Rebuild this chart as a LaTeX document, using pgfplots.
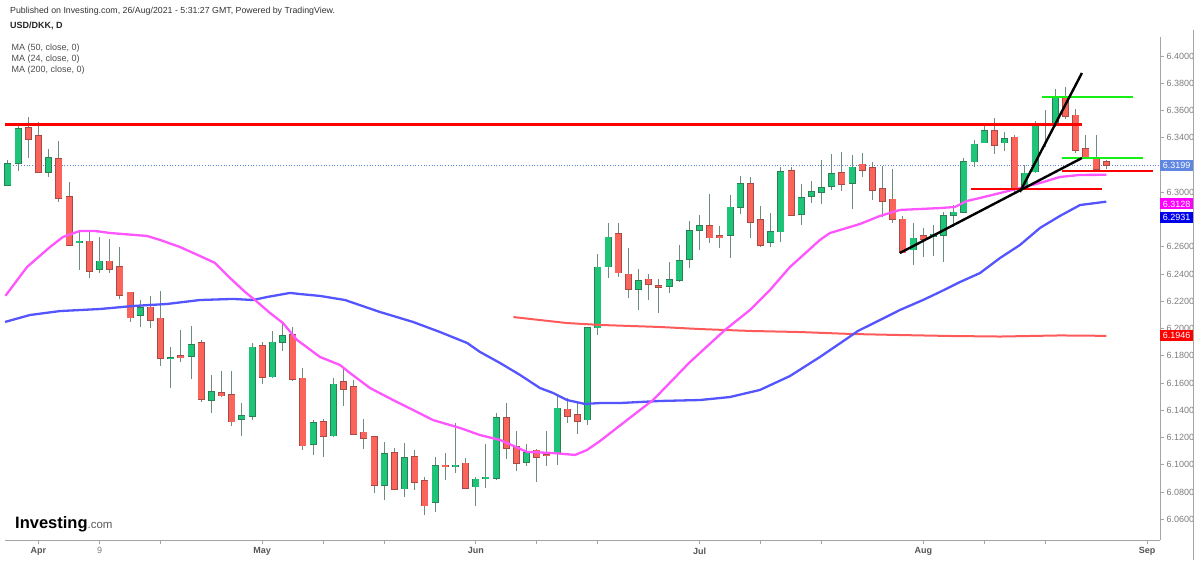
\documentclass[border=0pt]{standalone}
\usepackage{fontspec}
\setmainfont{Liberation Sans}
\usepackage{pgfplots}
\usepackage{pgfplotstable}
\pgfplotsset{compat=1.18}

\definecolor{upc}{RGB}{30,196,120}
\definecolor{upb}{RGB}{45,125,85}
\definecolor{dnc}{RGB}{250,100,90}
\definecolor{dnb}{RGB}{165,75,70}
\definecolor{wickc}{RGB}{110,140,125}
\definecolor{maA}{RGB}{255,85,255}
\definecolor{maB}{RGB}{85,85,255}
\definecolor{maC}{RGB}{255,90,90}
\definecolor{axisgray}{RGB}{165,165,165}
\definecolor{labgray}{RGB}{125,125,125}
\definecolor{monthc}{RGB}{85,85,85}
\definecolor{pricec}{RGB}{95,135,225}
\definecolor{hred}{RGB}{255,0,0}
\definecolor{hgreen}{RGB}{20,240,20}
\definecolor{boxmag}{RGB}{255,0,255}
\definecolor{boxblue}{RGB}{0,0,235}

% up (close > open) candles: index, open, high, low, close
\pgfplotstableread{
i o h l c
-3 6.3053 6.3237 6.3045 6.3207
-2 6.3215 6.3494 6.3156 6.3464
1 6.3149 6.3317 6.3112 6.3251
4 6.2635 6.2716 6.2430 6.2641
6 6.2437 6.2672 6.2407 6.2495
10 6.2099 6.2214 6.2013 6.2155
13 6.1781 6.1867 6.1561 6.1786
15 6.1798 6.2018 6.1627 6.1879
17 6.1475 6.1659 6.1382 6.1536
20 6.1333 6.1451 6.1211 6.1358
21 6.1358 6.1896 6.1328 6.1862
23 6.1647 6.1982 6.1640 6.1898
24 6.1903 6.2050 6.1837 6.1945
27 6.1152 6.1328 6.1071 6.1309
29 6.1213 6.1634 6.1201 6.1590
34 6.0851 6.1169 6.0741 6.1079
36 6.0827 6.1162 6.0766 6.1054
39 6.0724 6.1059 6.0651 6.0991
41 6.0993 6.1309 6.0942 6.0996
43 6.0839 6.0913 6.0697 6.0893
44 6.0904 6.1152 6.0834 6.0908
45 6.0905 6.1382 6.0888 6.1345
48 6.1018 6.1152 6.0991 6.1089
51 6.1084 6.1512 6.0997 6.1414
54 6.1333 6.2013 6.1292 6.2006
55 6.2006 6.2547 6.1952 6.2449
56 6.2454 6.2777 6.2368 6.2669
59 6.2288 6.2434 6.2136 6.2351
62 6.2312 6.2491 6.2263 6.2361
63 6.2356 6.2613 6.2344 6.2498
64 6.2508 6.2792 6.2449 6.2718
65 6.2723 6.2833 6.2576 6.2752
68 6.2686 6.2980 6.2522 6.2889
69 6.2894 6.3122 6.2838 6.3061
72 6.2632 6.2850 6.2601 6.2711
73 6.2711 6.3188 6.2637 6.3151
75 6.2841 6.3061 6.2760 6.2960
76 6.2972 6.3085 6.2919 6.3004
77 6.2999 6.3237 6.2914 6.3034
78 6.3046 6.3281 6.3021 6.3134
80 6.3066 6.3273 6.2877 6.3183
86 6.2581 6.2772 6.2466 6.2662
88 6.2674 6.2760 6.2532 6.2691
89 6.2686 6.2858 6.2491 6.2826
90 6.2833 6.2907 6.2747 6.2853
91 6.2853 6.3249 6.2845 6.3225
92 6.3225 6.3384 6.3188 6.3352
93 6.3364 6.3511 6.3359 6.3450
95 6.3366 6.3440 6.3303 6.3391
97 6.3041 6.3200 6.3029 6.3139
98 6.3151 6.3525 6.3144 6.3499
100 6.3494 6.3756 6.3481 6.3689
}\upcandles

% down (close < open) candles
\pgfplotstableread{
i o h l c
-1 6.3472 6.3552 6.3251 6.3391
0 6.3413 6.3516 6.3140 6.3149
2 6.3244 6.3376 6.2928 6.2958
3 6.2965 6.3075 6.2605 6.2613
5 6.2642 6.2716 6.2371 6.2422
7 6.2495 6.2657 6.2407 6.2437
8 6.2454 6.2600 6.2217 6.2248
9 6.2265 6.2270 6.2050 6.2079
11 6.2155 6.2238 6.2008 6.2062
12 6.2075 6.2277 6.1727 6.1781
14 6.1798 6.1989 6.1751 6.1791
16 6.1898 6.1915 6.1463 6.1480
18 6.1529 6.1690 6.1500 6.1507
19 6.1512 6.1690 6.1284 6.1316
22 6.1874 6.1903 6.1590 6.1642
25 6.1952 6.2013 6.1615 6.1629
26 6.1634 6.1707 6.1108 6.1140
28 6.1314 6.1340 6.1059 6.1211
30 6.1610 6.1720 6.1431 6.1558
31 6.1571 6.1622 6.1220 6.1226
32 6.1238 6.1340 6.1120 6.1194
33 6.1206 6.1210 6.0795 6.0851
35 6.1091 6.1121 6.0815 6.0820
37 6.1059 6.1108 6.0814 6.0876
38 6.0883 6.0913 6.0631 6.0700
40 6.0996 6.1089 6.0888 6.0991
42 6.1010 6.1047 6.0820 6.0827
46 6.1345 6.1455 6.1040 6.1120
47 6.1133 6.1250 6.0956 6.1015
49 6.1108 6.1113 6.0876 6.1059
50 6.1072 6.1250 6.0991 6.1070
52 6.1407 6.1488 6.1309 6.1358
53 6.1365 6.1455 6.1226 6.1323
57 6.2694 6.2777 6.2381 6.2410
58 6.2398 6.2593 6.2221 6.2288
60 6.2361 6.2400 6.2209 6.2327
61 6.2314 6.2361 6.2111 6.2305
66 6.2755 6.2987 6.2625 6.2669
67 6.2679 6.2752 6.2588 6.2672
70 6.3061 6.3115 6.2669 6.2779
71 6.2796 6.2899 6.2601 6.2613
74 6.3158 6.3188 6.2826 6.2833
79 6.3144 6.3298 6.3012 6.3061
81 6.3205 6.3285 6.3114 6.3163
82 6.3180 6.3224 6.2943 6.3017
83 6.3024 6.3193 6.2816 6.2938
84 6.2948 6.3168 6.2772 6.2801
85 6.2801 6.2826 6.2557 6.2557
87 6.2679 6.2735 6.2527 6.2654
94 6.3450 6.3543 6.3281 6.3347
96 6.3403 6.3420 6.3004 6.3029
99 6.3506 6.3604 6.3335 6.3496
101 6.3694 6.3770 6.3535 6.3560
102 6.3565 6.3609 6.3290 6.3310
103 6.3317 6.3420 6.3249 6.3256
104 6.3256 6.3420 6.3163 6.3168
105 6.3224 6.3236 6.3168 6.3199
}\dncandles

\pgfplotsset{
  wick/.style={draw=none, mark=none, forget plot,
    error bars/.cd, y dir=both, y explicit, error mark=none,
    error bar style={draw=wickc, line width=1pt}},
  bodyout/.style={draw=none, mark=none, forget plot,
    error bars/.cd, y dir=both, y explicit, error mark=none,
    error bar style={draw=#1, line width=7pt}},
  bodyin/.style={draw=none, mark=none, forget plot,
    error bars/.cd, y dir=both, y explicit, error mark=none,
    error bar style={draw=#1, line width=5.6pt}},
}

\begin{document}
\begin{tikzpicture}
\path[use as bounding box] (0pt,0pt) rectangle (1200pt,560pt);
\begin{axis}[
  at={(5pt,20pt)}, anchor=south west,
  scale only axis, width=1155pt, height=503pt,
  xmin=-3.294, xmax=110.28, ymin=6.04477, ymax=6.41394,
  clip=false,
  axis x line*=bottom, axis y line*=right,
  axis line style={draw=axisgray, line width=0.8pt},
  tick align=outside, major tick length=4pt,
  tick style={draw=axisgray, line width=0.8pt},
  xtick={0,6,12,22,28,34,43,49,55,65,71,77,87,93,99,109},
  xticklabels={\textbf{Apr},{\color{labgray}9},,\textbf{May},,,\textbf{Jun},,,\textbf{Jul},,,\textbf{Aug},,,\textbf{Sep}},
  xticklabel style={font=\fontsize{9}{11}\selectfont, text=monthc},
  ytick={6.06,6.08,6.10,6.12,6.14,6.16,6.18,6.20,6.22,6.24,6.26,6.28,6.30,6.32,6.34,6.36,6.38,6.40},
  yticklabels={6.0600,6.0800,6.1000,6.1200,6.1400,6.1600,6.1800,6.2000,6.2200,6.2400,6.2600,,6.3000,,6.3400,6.3600,6.3800,6.4000},
  yticklabel style={font=\fontsize{9}{11}\selectfont, text=labgray, xshift=-1pt},
]
% current price line
\addplot[pricec, dotted, line width=0.7pt, forget plot] coordinates {(-3.294,6.3199) (110.28,6.3199)};

% wicks
\addplot[wick] table[x=i, y expr={(\thisrow{h}+\thisrow{l})/2}, y error expr={(\thisrow{h}-\thisrow{l})/2}] {\upcandles};
\addplot[wick] table[x=i, y expr={(\thisrow{h}+\thisrow{l})/2}, y error expr={(\thisrow{h}-\thisrow{l})/2}] {\dncandles};
% body outlines
\addplot[bodyout=upb] table[x=i, y expr={(\thisrow{o}+\thisrow{c})/2}, y error expr={abs(\thisrow{o}-\thisrow{c})/2+0.0005}] {\upcandles};
\addplot[bodyout=dnb] table[x=i, y expr={(\thisrow{o}+\thisrow{c})/2}, y error expr={abs(\thisrow{o}-\thisrow{c})/2+0.0005}] {\dncandles};
% body fills
\addplot[bodyin=upc] table[x=i, y expr={(\thisrow{o}+\thisrow{c})/2}, y error expr={abs(\thisrow{o}-\thisrow{c})/2}] {\upcandles};
\addplot[bodyin=dnc] table[x=i, y expr={(\thisrow{o}+\thisrow{c})/2}, y error expr={abs(\thisrow{o}-\thisrow{c})/2}] {\dncandles};

% MA 200
\addplot[maC, line width=2pt, line join=round, forget plot] coordinates {
(46.7,6.2084) (49.31,6.2062) (51.97,6.2040) (55.21,6.2026) (61.11,6.2011) (65.04,6.1996) (69.96,6.1982) (74.88,6.1974) (79.79,6.1960) (84.71,6.1952) (89.63,6.1945) (94.54,6.1941) (97.49,6.1945) (100.44,6.1949) (105,6.1946)};
% MA 50
\addplot[maB, line width=2.3pt, line join=round, forget plot] coordinates {
(-3.29,6.2048) (-0.84,6.2099) (2.11,6.2128) (6.05,6.2143) (9.29,6.2165) (12.64,6.2180) (15.88,6.2209) (19.13,6.2217) (21.09,6.2209) (22.47,6.2231) (24.73,6.2261) (25.71,6.2253) (27.68,6.2239) (30.14,6.2209) (33.58,6.2121) (36.83,6.2048) (39.48,6.1974) (42.14,6.1894) (43.41,6.1828) (45.38,6.1747) (47.35,6.1659) (49.31,6.1563) (50.59,6.1527) (51.97,6.1475) (53.74,6.1446) (55.21,6.1453) (57.18,6.1453) (61.11,6.1468) (65.04,6.1475) (67.99,6.1497) (70.94,6.1549) (73.89,6.1651) (76.84,6.1791) (79.30,6.1916) (80.58,6.1982) (82.74,6.2062) (84.71,6.2136) (86.97,6.2209) (88.64,6.2268) (90.61,6.2341) (92.58,6.2407) (94.54,6.2517) (96.51,6.2613) (98.48,6.2738) (100.44,6.2826) (102.41,6.2906) (105,6.2931)};
% MA 24
\addplot[maA, line width=2.3pt, line join=round, forget plot] coordinates {
(-3.25,6.2240) (-1.13,6.2451) (1.13,6.2598) (2.41,6.2672) (4.08,6.2716) (5.56,6.2716) (7.03,6.2701) (10.67,6.2679) (11.95,6.2650) (13.91,6.2598) (15.88,6.2532) (17.36,6.2481) (18.83,6.2371) (20.31,6.2268) (21.29,6.2209) (22.76,6.2114) (24.04,6.2040) (25.42,6.1916) (27.68,6.1791) (29.65,6.1732) (30.63,6.1673) (32.60,6.1563) (34.86,6.1475) (36.83,6.1402) (38.79,6.1328) (41.45,6.1270) (43.41,6.1218) (45.38,6.1182) (48.04,6.1094) (50.59,6.1086) (52.76,6.1072) (53.93,6.1108) (55.21,6.1174) (57.87,6.1328) (60.42,6.1475) (61.11,6.1527) (64.06,6.1754) (67.50,6.1989) (69.96,6.2136) (71.93,6.2283) (73.89,6.2451) (76.84,6.2650) (77.83,6.2701) (80.78,6.2767) (82.74,6.2826) (84.71,6.2870) (86.68,6.2877) (88.64,6.2884) (90.12,6.2892) (91.30,6.2936) (92.58,6.2958) (94.54,6.2994) (96.51,6.3031) (98.48,6.3068) (100.44,6.3112) (102.41,6.3127) (105,6.3128)};

% drawn support / resistance and trend lines
\addplot[hred, line width=3pt, forget plot] coordinates {(-3.29,6.3497) (102.6,6.3497)};
\addplot[hred, line width=2.6pt, forget plot] coordinates {(91.7,6.3024) (104.6,6.3024)};
\addplot[hred, line width=2.4pt, forget plot] coordinates {(100.6,6.3156) (109.6,6.3156)};
\addplot[hgreen, line width=2.4pt, forget plot] coordinates {(98.7,6.3699) (107.6,6.3699)};
\addplot[hgreen, line width=1.6pt, forget plot] coordinates {(100.6,6.3251) (108.6,6.3251)};
\addplot[black, line width=2.4pt, forget plot] coordinates {(84.7,6.2554) (102.6,6.3251)};
\addplot[black, line width=2.4pt, forget plot] coordinates {(96.5,6.3002) (102.6,6.3875)};

\coordinate (pA) at (axis cs:110.28,6.3199);
\coordinate (pB) at (axis cs:110.28,6.2914);
\coordinate (pC) at (axis cs:110.28,6.2815);
\coordinate (pD) at (axis cs:110.28,6.1946);
\end{axis}

% price scale border
\draw[axisgray, line width=0.8pt] (1193pt,0pt) -- (1193pt,530pt);

% value boxes on the price scale
\tikzset{vbox/.style={anchor=west, inner sep=0pt, minimum width=33pt, minimum height=11pt, text=white, font=\fontsize{9}{11}\selectfont}}
\node[vbox, fill=pricec] at (pA) {6.3199};
\node[vbox, fill=boxmag] at (pB) {6.3128};
\node[vbox, fill=boxblue] at (pC) {6.2931};
\node[vbox, fill=hred] at (pD) {6.1946};

% header
\node[anchor=west, inner sep=0pt, font=\fontsize{8.8}{10}\selectfont, text=black!80] at (10pt,548.5pt) {Published on Investing.com, 26/Aug/2021 - 5:31:27 GMT, Powered by TradingView.};
\node[anchor=west, inner sep=0pt, font=\bfseries\fontsize{9}{10}\selectfont, text=black!85] at (10pt,534pt) {USD/DKK, D};
\node[anchor=west, inner sep=0pt, font=\fontsize{9}{10}\selectfont, text=black!70] at (11.5pt,512.3pt) {MA (50, close, 0)};
\node[anchor=west, inner sep=0pt, font=\fontsize{9}{10}\selectfont, text=black!70] at (11.5pt,501.3pt) {MA (24, close, 0)};
\node[anchor=west, inner sep=0pt, font=\fontsize{9}{10}\selectfont, text=black!70] at (11.5pt,490.3pt) {MA (200, close, 0)};

% logo
\node[anchor=base west, inner sep=0pt] at (15pt,32pt) {{\bfseries\fontsize{16.5}{18}\selectfont Investing}{\fontsize{11.5}{13}\selectfont\color{black!65}.com}};
\end{tikzpicture}
\end{document}
